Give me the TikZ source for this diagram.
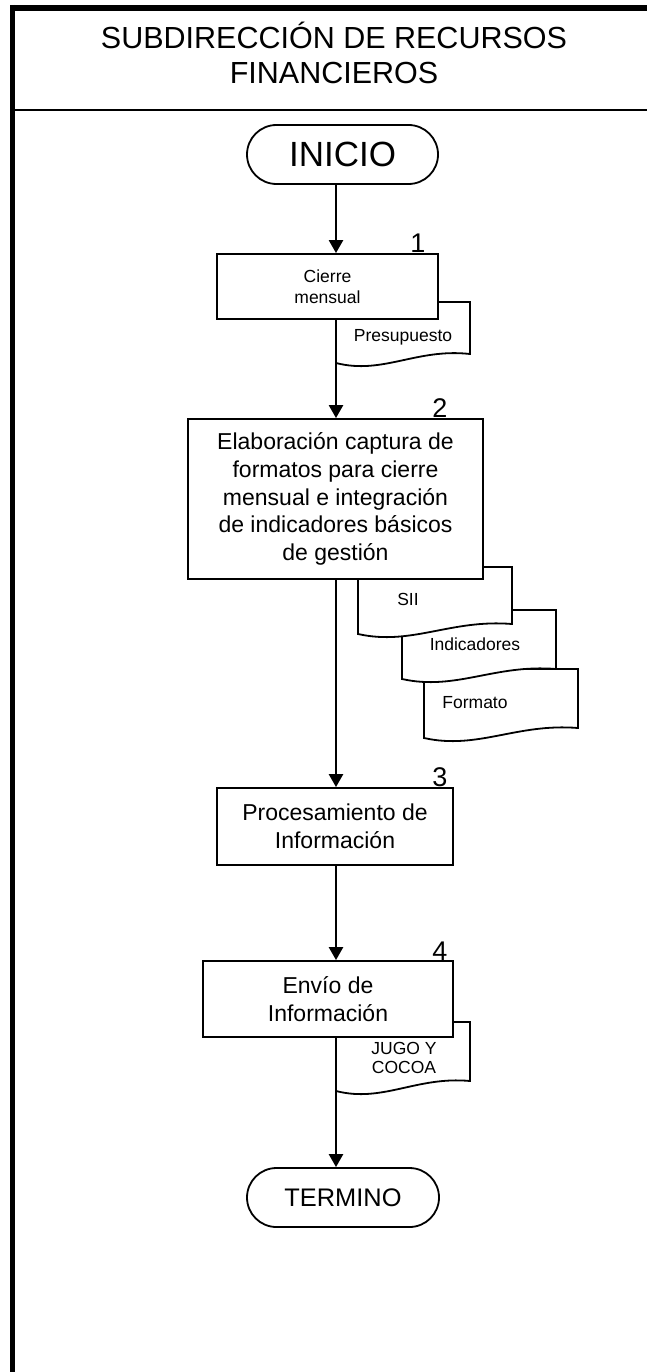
\documentclass[tikz,border=0pt]{standalone}
\usepackage{fontspec}
\setmainfont{Liberation Sans}
\usetikzlibrary{arrows.meta,shapes.misc}
\newcommand{\docpath}[5]{%
  \draw[docline] (#1,#2) -- (#3,#2) -- (#3,#4)
    .. controls ({#1+0.6*(#3-#1)},{#5-15}) and ({#1+0.35*(#3-#1)},{#5+12}) .. (#1,#5) -- cycle;}
\begin{document}
\begin{tikzpicture}[x=1pt,y=-1pt,
  procbox/.style={draw, fill=white, line width=1.8pt, inner sep=0pt, align=center,
    font=\fontsize{23}{27.7}\selectfont},
  termbox/.style={draw, fill=white, rounded rectangle, line width=1.8pt, inner sep=0pt},
  docline/.style={draw, fill=white, line width=1.8pt},
  doctext/.style={inner sep=0pt, align=center, font=\fontsize{17.5}{19.5}\selectfont},
  numlbl/.style={inner sep=0pt, anchor=base, font=\fontsize{27}{30}\selectfont},
  arr/.style={line width=2.4pt, -{Triangle[width=14pt,length=13pt]}},
  conn/.style={line width=2.4pt}]
\useasboundingbox (0,0) rectangle (647,1372);
% frame
\draw[line width=6pt] (10,8) -- (647,8);
\draw[line width=5pt] (12.5,5) -- (12.5,1372);
\draw[line width=2pt] (12.5,110) -- (647,110);
\node[align=center, inner sep=0pt, font=\fontsize{30.5}{35}\selectfont] (title) at (334,53)
  {SUBDIRECCIÓN DE RECURSOS\\FINANCIEROS};
\coordinate (spine) at (336,0);
% documents (drawn below boxes)
\docpath{336}{302}{470}{354}{363}
\node[doctext] (dpres) at (403,337) {Presupuesto};
\docpath{424}{669}{578}{728}{738}
\node[doctext] (dform) at (475,703) {Formato};
\docpath{402}{610}{556}{669}{679}
\node[doctext] (dind) at (475,644) {Indicadores};
\docpath{358}{567}{512}{624}{634}
\node[doctext] (dsii) at (408,599) {SII};
\docpath{336}{1022}{470}{1081}{1091}
\node[doctext] (djugo) at (404,1058) {JUGO Y\\COCOA};
% nodes
\node[termbox, minimum width=191pt, minimum height=59pt, font=\fontsize{35}{40}\selectfont]
  (inicio) at (342.5,154.5) {INICIO};
\node[procbox, minimum width=221pt, minimum height=65pt, font=\fontsize{17.5}{21.5}\selectfont]
  (b1) at (327.5,286.5) {Cierre\\mensual};
\node[procbox, minimum width=295pt, minimum height=160pt]
  (b2) at (335.5,499) {Elaboración captura de\\formatos para cierre\\mensual e integración\\de indicadores básicos\\de gestión};
\node[procbox, minimum width=236pt, minimum height=77pt]
  (b3) at (335,826.5) {Procesamiento de\\Información};
\node[procbox, minimum width=250pt, minimum height=76pt]
  (b4) at (328,999) {Envío de\\Información};
\node[termbox, minimum width=192pt, minimum height=59pt, font=\fontsize{25.4}{29}\selectfont]
  (termino) at (343,1197.5) {TERMINO};
% numbers
\node[numlbl] (n1) at (418,253) {1};
\node[numlbl] (n2) at (440,417) {2};
\node[numlbl] (n3) at (440,786) {3};
\node[numlbl] (n4) at (440,960) {4};
% connectors
\draw[arr] (spine |- inicio.south) -- (spine |- b1.north);
\draw[arr] (spine |- b1.south) -- (spine |- b2.north);
\draw[arr] (spine |- b2.south) -- (spine |- b3.north);
\draw[arr] (spine |- b3.south) -- (spine |- b4.north);
\draw[arr] (spine |- b4.south) -- (spine |- termino.north);
\end{tikzpicture}
\end{document}
